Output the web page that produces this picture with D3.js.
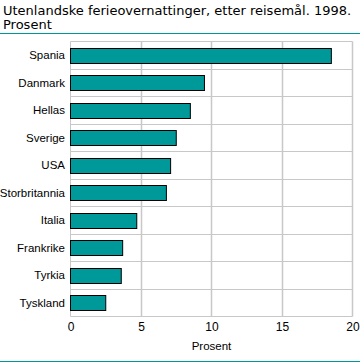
<!DOCTYPE html>
<html><head><meta charset="utf-8">
<script src="https://cdn.jsdelivr.net/npm/d3@7"></script>
<style>body{margin:0;background:#fff}svg{display:block}text{font-family:"Liberation Sans",Arial,sans-serif}</style>
</head><body><svg id="c" width="360" height="363"></svg>
<script>
const categories = ["Spania","Danmark","Hellas","Sverige","USA","Storbritannia","Italia","Frankrike","Tyrkia","Tyskland"];
const values = [18.5,9.5,8.5,7.5,7.1,6.8,4.7,3.7,3.6,2.5];
const xTicks = [0,5,10,15,20];
const titleLines = ["Utenlandske ferieovernattinger, etter reisemål. 1998.","Prosent"];
const xTitle = "Prosent";

const svg = d3.select("#c");
const teal = "#009999", grid = "#c8c8c8";
const m = {l:70.5, r:352.5, t:41.5, b:316.5};
const x = d3.scaleLinear().domain([0,20]).range([m.l,m.r]);
const y = d3.scaleBand().domain(categories).range([m.t,m.b]).paddingInner(0.47).paddingOuter(0.235);
const yb = d3.scaleBand().domain(categories).range([m.t,m.b]);

svg.selectAll("text.title").data(titleLines).join("text").attr("class","title")
  .attr("x",3).attr("y",(d,i)=>15+i*14).attr("font-size",13).attr("fill","#000")
  .style("font-family","'DejaVu Sans', sans-serif").text(d=>d);
svg.append("line").attr("x1",0).attr("x2",360).attr("y1",33.5).attr("y2",33.5).attr("stroke",teal).attr("stroke-width",1);
svg.append("line").attr("x1",0).attr("x2",360).attr("y1",361.5).attr("y2",361.5).attr("stroke",teal).attr("stroke-width",1);

const hb = categories.map(c=>yb(c)).concat([m.b]);
svg.selectAll("line.hg").data(hb).join("line").attr("class","hg")
  .attr("x1",m.l).attr("x2",m.r).attr("y1",d=>Math.round(d-0.5)+0.5).attr("y2",d=>Math.round(d-0.5)+0.5).attr("stroke",grid);
svg.selectAll("line.vg").data(xTicks).join("line").attr("class","vg")
  .attr("x1",d=>Math.round(x(d)-0.5)+0.5).attr("x2",d=>Math.round(x(d)-0.5)+0.5).attr("y1",m.t).attr("y2",m.b).attr("stroke",grid).attr("stroke-width",d=>d===0?1:1.5);

svg.selectAll("rect.bar").data(values).join("rect").attr("class","bar")
  .attr("x",x(0)).attr("y",(d,i)=>Math.round(y(categories[i]))+0.5)
  .attr("width",d=>x(d)-x(0)).attr("height",Math.round(y.bandwidth()))
  .attr("fill",teal).attr("stroke","#000").attr("stroke-width",1);

svg.selectAll("text.cat").data(categories).join("text").attr("class","cat")
  .attr("x",65).attr("y",d=>yb(d)+yb.bandwidth()/2+4).attr("text-anchor","end").attr("font-size",11.5).text(d=>d);

const ax = d3.axisBottom(x).tickValues(xTicks).tickSize(0).tickPadding(6);
const g = svg.append("g").attr("transform",`translate(0,${m.b})`).call(ax);
g.select(".domain").remove();
g.selectAll("text").attr("font-size",12).attr("fill","#000");

svg.append("text").attr("x",(m.l+m.r)/2).attr("y",350).attr("text-anchor","middle").attr("font-size",11.5).text(xTitle);
</script></body></html>
